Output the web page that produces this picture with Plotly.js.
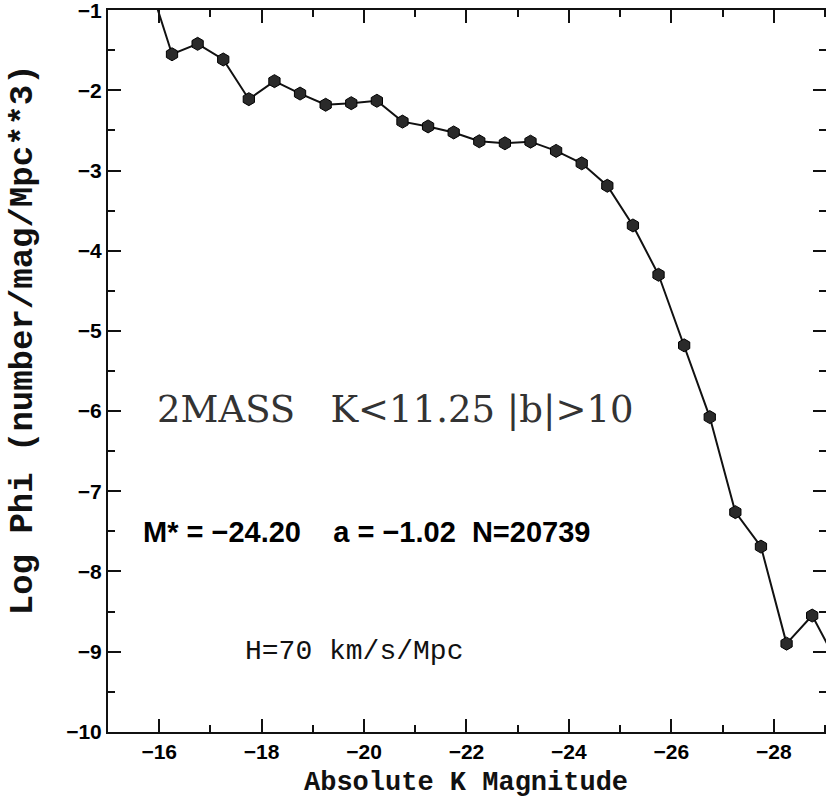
<!DOCTYPE html>
<html>
<head>
<meta charset="utf-8">
<script src="https://cdn.plot.ly/plotly-3.0.1.min.js"></script>
<style>html,body{margin:0;padding:0;background:#fff;}#chart{width:826px;height:802px;}</style>
</head>
<body>
<div id="chart"></div>
<script>
// Absolute K magnitude bins
const magnitudes = [-15.75, -16.25, -16.75, -17.25, -17.75, -18.25, -18.75, -19.25, -19.75, -20.25,
  -20.75, -21.25, -21.75, -22.25, -22.75, -23.25, -23.75, -24.25, -24.75, -25.25,
  -25.75, -26.25, -26.75, -27.25, -27.75, -28.25, -28.75, -29.25];
// Log Phi values
const logPhi = [-0.55, -1.55, -1.42, -1.615, -2.11, -1.885, -2.04, -2.18, -2.16, -2.13,
  -2.39, -2.45, -2.525, -2.635, -2.66, -2.64, -2.755, -2.91, -3.19, -3.685,
  -4.30, -5.18, -6.075, -7.26, -7.69, -8.90, -8.55, -9.15];

const xTickVals = [-16, -18, -20, -22, -24, -26, -28];
const yTickVals = [-1, -2, -3, -4, -5, -6, -7, -8, -9, -10];

const titleText = '2MASS\u00a0\u00a0\u00a0K&lt;11.25 |b|&gt;10';
const paramText = 'M* = \u221224.20\u00a0\u00a0\u00a0\u00a0a = \u22121.02\u00a0\u00a0N=20739';
const hubbleText = 'H=70 km/s/Mpc';
const xTitle = 'Absolute K Magnitude';
const yTitle = 'Log Phi (number/mag/Mpc**3)';

const trace = {
  x: magnitudes,
  y: logPhi,
  type: 'scatter',
  mode: 'lines+markers',
  line: {color: '#111', width: 2},
  marker: {symbol: 'hexagon', size: 13, color: '#2a2a2a', line: {color: '#000', width: 1}}
};

const layout = {
  width: 826, height: 802,
  margin: {l: 108, r: 0, t: 10, b: 70},
  font: {family: 'Liberation Sans', size: 21, color: '#000', weight: 700},
  showlegend: false,
  xaxis: {
    range: [-15, -29.02],
    tickvals: xTickVals,
    ticks: 'inside', ticklen: 13, tickwidth: 2, tickcolor: '#111',
    minor: {dtick: 1, tick0: -16, ticks: 'inside', ticklen: 7, tickwidth: 2, tickcolor: '#111', showgrid: false},
    showline: true, linewidth: 2, linecolor: '#111', mirror: 'ticks',
    showgrid: false, zeroline: false,
    tickfont: {family: 'Liberation Sans', size: 21, color: '#000', weight: 700}
  },
  yaxis: {
    range: [-10.002, -0.998],
    tickvals: yTickVals,
    ticks: 'inside', ticklen: 13, tickwidth: 2, tickcolor: '#111',
    minor: {dtick: 0.5, tick0: -1, ticks: 'inside', ticklen: 7, tickwidth: 2, tickcolor: '#111', showgrid: false},
    showline: true, linewidth: 2, linecolor: '#111', mirror: 'ticks',
    showgrid: false, zeroline: false, ticklabeloverflow: 'allow',
    tickfont: {family: 'Liberation Sans', size: 21, color: '#000', weight: 700}
  },
  annotations: [
    {xref: 'paper', yref: 'paper', x: 0.0655, y: 0.446, xanchor: 'left', yanchor: 'middle',
     text: titleText, showarrow: false,
     font: {family: 'DejaVu Serif', size: 37, color: '#333', weight: 400}},
    {xref: 'paper', yref: 'paper', x: 0.046, y: 0.2774, xanchor: 'left', yanchor: 'middle',
     text: paramText, showarrow: false,
     font: {family: 'Liberation Sans', size: 29, color: '#000', weight: 700}},
    {xref: 'paper', yref: 'paper', x: 0.188, y: 0.1115, xanchor: 'left', yanchor: 'middle',
     text: hubbleText, showarrow: false,
     font: {family: 'Liberation Mono', size: 28, color: '#111', weight: 400}},
    {xref: 'paper', yref: 'paper', x: 0.498, y: -0.07, xanchor: 'center', yanchor: 'middle',
     text: xTitle, showarrow: false,
     font: {family: 'Liberation Mono', size: 27, color: '#111', weight: 700}},
    {xref: 'paper', yref: 'paper', x: -0.118, y: 0.543, xanchor: 'center', yanchor: 'middle',
     text: yTitle, showarrow: false, textangle: -90,
     font: {family: 'Liberation Mono', size: 34, color: '#111', weight: 700}}
  ]
};

Plotly.newPlot('chart', [trace], layout, {displayModeBar: false});
</script>
</body>
</html>
